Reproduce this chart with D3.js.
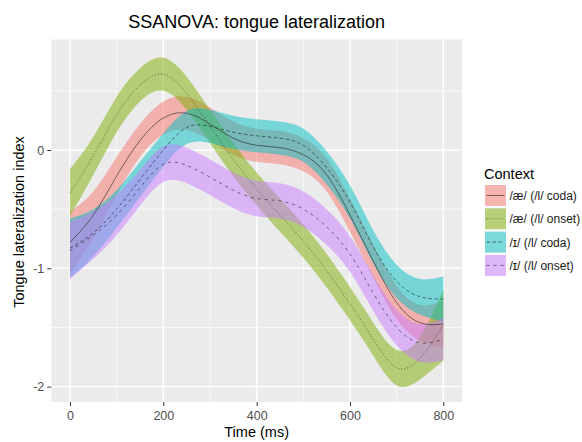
<!DOCTYPE html>
<meta charset="utf-8">
<style>
body { margin: 0; background: #fff; }
text { font-family: "Liberation Sans", Arial, sans-serif; }
</style>
<body>
<script src="https://d3js.org/d3.v7.min.js"></script>
<script>
var times = [0, 50, 100, 150, 200, 250, 300, 350, 400, 450, 500, 550, 600, 650, 700, 750, 800];

// fitted curves and half-width of the confidence band for each context
var aeCodaFit   = [-0.78, -0.55, -0.22, 0.08, 0.27, 0.31, 0.22, 0.10, 0.04, 0.02, -0.04, -0.21, -0.55, -0.94, -1.29, -1.46, -1.47];
var aeCodaCI    = [0.26, 0.20, 0.16, 0.14, 0.14, 0.14, 0.14, 0.14, 0.14, 0.14, 0.14, 0.14, 0.14, 0.14, 0.14, 0.15, 0.20];
var aeOnsetFit  = [-0.36, -0.05, 0.30, 0.55, 0.64, 0.48, 0.20, -0.08, -0.33, -0.55, -0.77, -1.02, -1.30, -1.60, -1.84, -1.76, -1.48];
var aeOnsetCI   = [0.20, 0.16, 0.15, 0.14, 0.14, 0.14, 0.14, 0.14, 0.14, 0.14, 0.14, 0.14, 0.14, 0.14, 0.15, 0.18, 0.30];
var ihCodaFit   = [-0.83, -0.70, -0.50, -0.25, 0.00, 0.19, 0.20, 0.15, 0.12, 0.10, 0.04, -0.15, -0.44, -0.82, -1.11, -1.24, -1.26];
var ihCodaCI    = [0.25, 0.20, 0.16, 0.15, 0.14, 0.14, 0.14, 0.14, 0.14, 0.14, 0.14, 0.14, 0.14, 0.14, 0.14, 0.15, 0.19];
var ihOnsetFit  = [-0.85, -0.72, -0.55, -0.32, -0.12, -0.13, -0.23, -0.34, -0.41, -0.43, -0.50, -0.65, -0.88, -1.21, -1.50, -1.63, -1.60];
var ihOnsetCI   = [0.24, 0.20, 0.17, 0.15, 0.15, 0.15, 0.15, 0.15, 0.15, 0.15, 0.15, 0.15, 0.15, 0.15, 0.15, 0.16, 0.18];

var labels  = ["/æ/ (/l/ coda)", "/æ/ (/l/ onset)", "/ɪ/ (/l/ coda)", "/ɪ/ (/l/ onset)"];
var colors  = ["#F8766D", "#7CAE00", "#00BFC4", "#C77CFF"];
var dashes  = [null, "1,2", "3.5,2.5", "3,4"];
var fits    = [aeCodaFit, aeOnsetFit, ihCodaFit, ihOnsetFit];
var cis     = [aeCodaCI, aeOnsetCI, ihCodaCI, ihOnsetCI];

var xTicks = [0, 200, 400, 600, 800];
var yTicks = [0, -1, -2];

var W = 582, H = 442;
var panel = {left: 51.3, right: 462, top: 39.5, bottom: 402};

var svg = d3.select("body").append("svg")
    .attr("width", W)
    .attr("height", H);

var x = d3.scaleLinear().domain([-40, 840]).range([panel.left, panel.right]);
var y = d3.scaleLinear().domain([-2.13, 0.934]).range([panel.bottom, panel.top]);

// panel background + grid
svg.append("rect")
    .attr("x", panel.left).attr("y", panel.top)
    .attr("width", panel.right - panel.left).attr("height", panel.bottom - panel.top)
    .attr("fill", "#EBEBEB");

var grid = svg.append("g");
[100, 300, 500, 700].forEach(function(t) {
  grid.append("line").attr("x1", x(t)).attr("x2", x(t)).attr("y1", panel.top).attr("y2", panel.bottom)
      .attr("stroke", "#fff").attr("stroke-width", 0.7);
});
[0.5, -0.5, -1.5].forEach(function(v) {
  grid.append("line").attr("y1", y(v)).attr("y2", y(v)).attr("x1", panel.left).attr("x2", panel.right)
      .attr("stroke", "#fff").attr("stroke-width", 0.7);
});
xTicks.forEach(function(t) {
  grid.append("line").attr("x1", x(t)).attr("x2", x(t)).attr("y1", panel.top).attr("y2", panel.bottom)
      .attr("stroke", "#fff").attr("stroke-width", 1.4);
});
yTicks.forEach(function(v) {
  grid.append("line").attr("y1", y(v)).attr("y2", y(v)).attr("x1", panel.left).attr("x2", panel.right)
      .attr("stroke", "#fff").attr("stroke-width", 1.4);
});

// ribbons first, then the fitted lines on top
var area = d3.area()
    .x(function(d) { return x(d.t); })
    .y0(function(d) { return y(d.fit - d.ci); })
    .y1(function(d) { return y(d.fit + d.ci); })
    .curve(d3.curveNatural);

var line = d3.line()
    .x(function(d) { return x(d.t); })
    .y(function(d) { return y(d.fit); })
    .curve(d3.curveNatural);

var series = fits.map(function(f, i) {
  return times.map(function(t, j) { return {t: t, fit: f[j], ci: cis[i][j]}; });
});

series.forEach(function(s, i) {
  svg.append("path").datum(s)
      .attr("d", area)
      .attr("fill", colors[i])
      .attr("fill-opacity", 0.5);
});
series.forEach(function(s, i) {
  svg.append("path").datum(s)
      .attr("d", line)
      .attr("fill", "none")
      .attr("stroke", "#222")
      .attr("stroke-width", 0.6)
      .attr("stroke-dasharray", dashes[i]);
});

// axes
var xAxis = svg.append("g")
    .attr("transform", "translate(0," + panel.bottom + ")")
    .call(d3.axisBottom(x).tickValues(xTicks).tickSize(4).tickPadding(5));
var yAxis = svg.append("g")
    .attr("transform", "translate(" + panel.left + ",0)")
    .call(d3.axisLeft(y).tickValues(yTicks).tickSize(4).tickPadding(3).tickFormat(function(d) { return d === 0 ? "0" : "-" + Math.abs(d); }));
[xAxis, yAxis].forEach(function(a) {
  a.select(".domain").remove();
  a.selectAll(".tick line").attr("stroke", "#333");
  a.selectAll(".tick text").attr("fill", "#4D4D4D").style("font-size", "12.5px")
      .style("font-family", "'Liberation Sans', Arial, sans-serif");
});

// titles
var cx = (panel.left + panel.right) / 2;
svg.append("text").attr("x", cx).attr("y", 28)
    .attr("text-anchor", "middle").style("font-size", "18px")
    .text("SSANOVA: tongue lateralization");
svg.append("text").attr("x", cx).attr("y", 437)
    .attr("text-anchor", "middle").style("font-size", "14.5px")
    .text("Time (ms)");
svg.append("text")
    .attr("transform", "translate(24," + 222 + ") rotate(-90)")
    .attr("text-anchor", "middle").style("font-size", "14.5px")
    .text("Tongue lateralization index");

// legend
var legend = svg.append("g").attr("transform", "translate(485,0)");
legend.append("text").attr("x", -1).attr("y", 179)
    .style("font-size", "14.5px").text("Context");
labels.forEach(function(lab, i) {
  var top = 185 + i * 23.3;
  legend.append("rect").attr("x", 0).attr("y", top).attr("width", 21).attr("height", 21)
      .attr("fill", "#F2F2F2");
  legend.append("rect").attr("x", 0).attr("y", top).attr("width", 21).attr("height", 21)
      .attr("fill", colors[i]).attr("fill-opacity", 0.5);
  legend.append("line").attr("x1", 1.5).attr("x2", 19.5).attr("y1", top + 10.5).attr("y2", top + 10.5)
      .attr("stroke", "#222").attr("stroke-width", 0.6).attr("stroke-dasharray", dashes[i]);
  legend.append("text").attr("x", 24.5).attr("y", top + 15)
      .style("font-size", "12px").attr("fill", "#1a1a1a").text(lab);
});
</script>
</body>
